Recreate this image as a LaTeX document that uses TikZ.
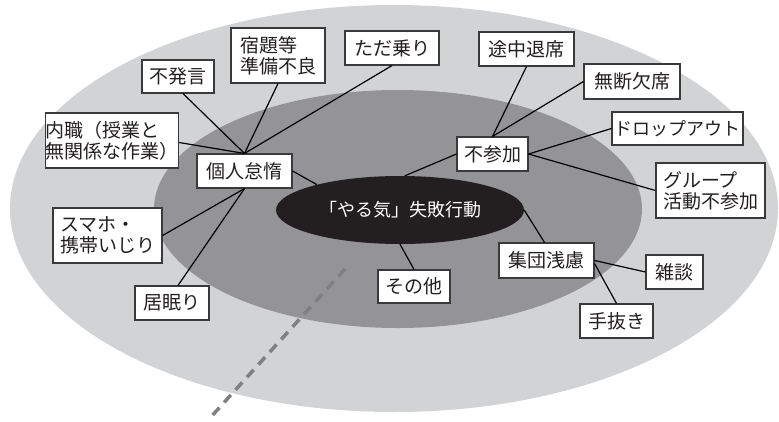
\documentclass[tikz,border=0pt]{standalone}
\usepackage{fontspec}
\newfontfamily\jpfont{Noto Sans CJK JP}
\usetikzlibrary{shapes.geometric}
\definecolor{outergray}{HTML}{D2D3D5}
\definecolor{midgray}{HTML}{949497}
\definecolor{coreblack}{HTML}{231F20}
\definecolor{boxline}{HTML}{3A3A3A}
\definecolor{dashgray}{HTML}{808080}
\tikzset{
  lbl/.style={draw=boxline, line width=1.1pt, fill=white, inner xsep=2pt, inner ysep=1pt,
    font=\jpfont\fontsize{19}{21}\selectfont, text=coreblack},
  twoline/.style={lbl, align=left},
  conn/.style={draw=black, line width=1.2pt}
}
\begin{document}
\begin{tikzpicture}[x=1pt, y=-1pt]
\useasboundingbox (0,0) rectangle (779,421);
% layered ellipses
\fill[outergray] (394,208.5) ellipse [x radius=384, y radius=203.5];
\fill[midgray] (398,209) ellipse [x radius=244, y radius=119];
\draw[dashgray, line width=3.5pt, dash pattern=on 10pt off 7pt] (345,269) -- (210,418);
% core
\node[ellipse, fill=coreblack, minimum width=248pt, minimum height=68pt, inner sep=0pt,
  font=\jpfont\fontsize{18}{20}\selectfont, text=white] (core) at (400,210) {「やる気」失敗行動};
% hub nodes
\node[lbl, minimum width=95pt, minimum height=34pt] (kojin) at (244.5,171) {個人怠惰};
\node[lbl, minimum width=71pt, minimum height=34pt] (fusanka) at (492.5,154) {不参加};
\node[lbl, minimum width=95pt, minimum height=35pt] (shudan) at (546.5,260.5) {集団浅慮};
\node[lbl, minimum width=72pt, minimum height=33pt] (sonota) at (414,286.5) {その他};
% leaves of kojin
\node[lbl, minimum width=72pt, minimum height=33pt] (fuhatsugen) at (178,76.5) {不発言};
\node[twoline, minimum width=94pt, minimum height=55pt] (shukudai) at (278,55.5) {宿題等\\準備不良};
\node[lbl, minimum width=94pt, minimum height=34pt] (tadanori) at (392,48) {ただ乗り};
\node[twoline, inner xsep=0pt, minimum width=132pt, minimum height=55pt] (naishoku) at (112,140.5) {内職（授業と\\無関係な作業）};
\node[twoline, minimum width=109pt, minimum height=55pt] (sumaho) at (107.5,235.5) {スマホ・\\携帯いじり};
\node[lbl, minimum width=74pt, minimum height=34pt] (inemuri) at (172,303) {居眠り};
% leaves of fusanka
\node[lbl, minimum width=95pt, minimum height=34pt] (tochu) at (526.5,49) {途中退席};
\node[lbl, minimum width=96pt, minimum height=35pt] (mudan) at (632,81.5) {無断欠席};
\node[lbl, minimum width=131pt, minimum height=33pt, font=\jpfont\fontsize{18}{20}\selectfont] (drop) at (677.5,128.5) {ドロップアウト};
\node[twoline, minimum width=109pt, minimum height=55pt] (group) at (710.5,190.5) {グループ\\活動不参加};
% leaves of shudan
\node[lbl, minimum width=57pt, minimum height=34pt] (zatsudan) at (674.5,272) {雑談};
\node[lbl, minimum width=73pt, minimum height=34pt] (tenuki) at (616.5,321) {手抜き};
% connectors
\draw[conn] (kojin.north) -- ([xshift=5pt]fuhatsugen.south);
\draw[conn] (kojin.north) -- (shukudai.south);
\draw[conn] (kojin.north) -- (tadanori.south);
\draw[conn] (kojin.north) -- ([yshift=-2pt]naishoku.east);
\draw[conn] (kojin.east) -- (core.163);
\draw[conn] (kojin.south) -- (sumaho.east);
\draw[conn] (kojin.south) -- ([xshift=6pt]inemuri.north);
\draw[conn] (fusanka.north) -- (tochu.south);
\draw[conn] (fusanka.north) -- (mudan.west);
\draw[conn] (fusanka.east) -- (drop.west);
\draw[conn] (fusanka.east) -- (group.west);
\draw[conn] (fusanka.west) -- (core.82);
\draw[conn] (core.east) -- ([xshift=-2pt]shudan.north);
\draw[conn] (core.south) -- (sonota.north);
\draw[conn] (shudan.east) -- (zatsudan.west);
\draw[conn] ([yshift=-3pt]shudan.east) -- (tenuki.north);
\end{tikzpicture}
\end{document}
